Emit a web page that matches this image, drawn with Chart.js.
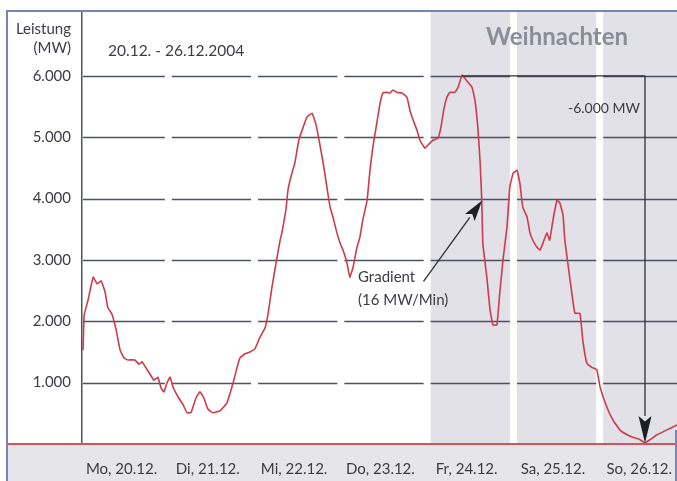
<!DOCTYPE html>
<html><head><meta charset="utf-8">
<script src="https://cdn.jsdelivr.net/npm/chart.js@4.4.1/dist/chart.umd.min.js"></script>
<style>html,body{margin:0;padding:0;background:#fff}canvas{display:block}</style>
</head><body><canvas id="c" width="677" height="481"></canvas>
<script>
// ---- data (hours since Mo 20.12. 00:00, power in MW) ----
const hours=[0.3,0.6,1.7,3.1,4.2,5.3,6.4,7.2,8.3,9.5,
10.6,11.7,12.8,14.7,15.9,16.7,17.8,18.9,20.0,21.1,
22.0,22.8,23.6,24.5,25.3,26.7,28.1,29.2,30.3,31.7,
32.8,33.9,35.0,36.4,38.4,40.3,42.0,43.1,43.9,45.3,
46.7,48.1,49.5,50.9,51.7,52.8,54.0,55.1,55.6,56.7,
57.3,58.1,59.2,60.3,61.5,62.6,64.0,65.1,66.2,67.3,
68.1,69.0,69.8,70.9,71.8,72.6,73.7,74.5,75.4,76.5,
77.3,78.1,79.3,80.1,80.9,82.0,82.9,83.7,84.8,85.7,
86.5,87.6,89.0,90.4,91.2,92.1,93.2,94.0,95.4,96.2,
97.6,99.0,99.8,100.7,101.5,102.3,103.7,104.6,105.7,106.5,
107.3,108.5,109.3,110.1,110.7,111.2,111.5,112.6,113.5,114.3,
115.4,116.2,117.1,118.2,119.0,119.9,121.0,121.8,122.6,123.8,
124.6,125.4,126.5,127.4,128.2,129.3,130.1,131.0,132.1,132.9,
133.8,134.3,135.2,136.3,137.1,138.5,139.3,140.4,141.8,143.2,
144.1,146.0,147.7,149.6,151.6,153.2,155.2,156.6,158.0,159.9,
162.7,165.5];
const mw=[1530,2100,2350,2720,2610,2660,2480,2220,2120,1860,
1530,1400,1370,1370,1300,1340,1240,1140,1040,1090,
910,850,990,1090,930,770,640,510,510,750,
850,750,570,510,540,670,990,1240,1400,1470,
1500,1550,1740,1890,2100,2540,2960,3320,3440,3810,
4140,4350,4580,4950,5160,5330,5390,5200,4870,4500,
4190,3860,3700,3440,3270,3160,2950,2720,2880,3210,
3370,3650,3970,4460,4840,5230,5550,5720,5730,5720,
5770,5730,5720,5650,5440,5280,5110,4950,4820,4870,
4950,4980,5150,5470,5650,5730,5730,5810,6010,5960,
5900,5810,5600,5160,4630,3970,3270,2720,2180,1940,
1940,2460,3000,3530,4190,4410,4460,4250,3860,3700,
3440,3320,3210,3160,3270,3440,3320,3650,3970,3930,
3730,3320,2920,2430,2130,2130,1690,1320,1250,1210,
930,600,390,230,150,110,70,20,70,150,
230,310];
const yTicks=[1000,2000,3000,4000,5000,6000];
const dayTickHours=[11,35,59,83,107,131,155];
const dayLabels=['Mo, 20.12.','Di, 21.12.','Mi, 22.12.','Do, 23.12.','Fr, 24.12.','Sa, 25.12.','So, 26.12.'];
const dayBounds=[0,24,48,72,96,120,144,168];
const holidayDays=[4,5,6];
const peakHour=105.7, peakLine=6000, dropHour=156.6;
const gradFrom={x:95.0,y:2650}, gradTo={x:111.3,y:3970};

Chart.defaults.font.family='Lato, "Open Sans", sans-serif';
const TXT='#3b3c44', GRID='#4d5260';

function arrow(ctx,x1,y1,x2,y2,hl,hw){
  const a=Math.atan2(y2-y1,x2-x1);
  const bx=x2-hl*Math.cos(a), by=y2-hl*Math.sin(a);
  ctx.beginPath();ctx.moveTo(x1,y1);ctx.lineTo(bx,by);ctx.stroke();
  const px=-Math.sin(a)*hw/2, py=Math.cos(a)*hw/2;
  ctx.beginPath();ctx.moveTo(x2,y2);ctx.lineTo(bx+px,by+py);
  ctx.lineTo(x2-hl*0.8*Math.cos(a),y2-hl*0.8*Math.sin(a));
  ctx.lineTo(bx-px,by-py);ctx.closePath();ctx.fill();
}

const deco={
  id:'deco',
  beforeDraw(chart){
    const {ctx,chartArea:ca,scales:{x}}=chart;
    const W=chart.width,H=chart.height;
    ctx.save();
    ctx.fillStyle='#fff';ctx.fillRect(0,0,W,H);
    ctx.fillStyle='#e1e1e7';
    holidayDays.forEach(d=>{
      const l=x.getPixelForValue(dayBounds[d])+3.5;
      const r=Math.min(x.getPixelForValue(dayBounds[d+1])-3.5,W);
      ctx.fillRect(l,ca.top,r-l,ca.bottom-ca.top);
    });
    ctx.fillStyle='#e6e6ea';
    ctx.fillRect(8,ca.bottom,W-8,H-ca.bottom);
    ctx.restore();
  },
  beforeDatasetsDraw(chart){
    const {ctx,chartArea:ca,scales:{x,y}}=chart;
    ctx.save();ctx.strokeStyle=GRID;ctx.lineWidth=1.5;
    yTicks.forEach(v=>{
      const py=Math.round(y.getPixelForValue(v))+0.5;
      for(let d=0;d<7;d++){
        const l=d===0?ca.left+1:x.getPixelForValue(dayBounds[d])+3.5;
        const r=Math.min(x.getPixelForValue(dayBounds[d+1])-3.5,ca.right);
        ctx.beginPath();ctx.moveTo(l,py);ctx.lineTo(r,py);ctx.stroke();
      }
    });
    ctx.restore();
  },
  afterDatasetsDraw(chart){
    const {ctx,chartArea:ca,scales:{x,y}}=chart;
    const W=chart.width,H=chart.height;
    ctx.save();
    // -6000 MW annotation
    ctx.strokeStyle='#2e2f36';ctx.fillStyle='#1e1f24';ctx.lineWidth=1.3;
    const py=y.getPixelForValue(peakLine), px=x.getPixelForValue(dropHour);
    ctx.beginPath();ctx.moveTo(x.getPixelForValue(peakHour),py);ctx.lineTo(px,py);ctx.stroke();
    arrow(ctx,px,py,px,y.getPixelForValue(0)-1,27,13);
    // gradient arrow
    arrow(ctx,x.getPixelForValue(gradFrom.x),y.getPixelForValue(gradFrom.y),
      x.getPixelForValue(gradTo.x),y.getPixelForValue(gradTo.y),21,12);
    // bottom red line
    ctx.strokeStyle='#d2545d';ctx.lineWidth=2;
    ctx.beginPath();ctx.moveTo(8,ca.bottom);ctx.lineTo(W,ca.bottom);ctx.stroke();
    // frame
    ctx.strokeStyle='#7a83b9';ctx.lineWidth=2;
    ctx.beginPath();ctx.moveTo(7,H);ctx.lineTo(7,11);ctx.lineTo(W,11);ctx.stroke();
    ctx.beginPath();ctx.moveTo(676,430);ctx.lineTo(676,H);ctx.stroke();
    // texts
    ctx.fillStyle=TXT;ctx.textBaseline='middle';
    ctx.font='15px Lato';ctx.textAlign='right';
    ctx.fillText('Leistung',71,29);ctx.fillText('(MW)',71,48);
    ctx.textAlign='left';ctx.font='15.5px Lato';
    ctx.fillText('20.12. - 26.12.2004',108,51);
    ctx.font='14px Lato';ctx.fillText('-6.000 MW',568,108);
    ctx.font='15px Lato';
    ctx.fillText('Gradient',358,277);ctx.fillText('(16 MW/Min)',358,300);
    ctx.fillStyle='#8a8e99';ctx.font='bold 24px Lato';ctx.textAlign='center';
    ctx.fillText('Weihnachten',557,37);
    ctx.restore();
  }
};

new Chart(document.getElementById('c'),{
  type:'line',
  data:{datasets:[{data:hours.map((h,i)=>({x:h,y:mw[i]})),borderColor:'#cc3c4b',borderWidth:1.6,
    pointRadius:0,tension:0.1,fill:false}]},
  options:{
    responsive:false,animation:false,
    layout:{padding:{top:12,left:0,right:0,bottom:0},autoPadding:false},
    plugins:{legend:{display:false},tooltip:{enabled:false}},
    scales:{
      x:{type:'linear',min:0,max:165.5,
        grid:{display:false,drawTicks:false},border:{display:false},
        afterBuildTicks:s=>{s.ticks=dayTickHours.map(v=>({value:v}));},
        afterFit:s=>{s.height=37;s.paddingLeft=0;s.paddingRight=0;s.paddingTop=0;s.paddingBottom=0;},
        ticks:{autoSkip:false,maxRotation:0,minRotation:0,padding:16,color:TXT,font:{size:15},
          callback:(v,i)=>dayLabels[i]}},
      y:{min:0,max:7040,
        grid:{display:false,drawTicks:false},
        border:{display:true,color:GRID,width:1.5},
        afterBuildTicks:s=>{s.ticks=yTicks.map(v=>({value:v}));},
        afterFit:s=>{s.width=82;s.paddingLeft=0;s.paddingRight=0;s.paddingTop=0;s.paddingBottom=0;},
        ticks:{padding:11,color:TXT,font:{size:15},callback:v=>(v/1000)+'.000'}}
    }
  },
  plugins:[deco]
});
</script></body></html>
